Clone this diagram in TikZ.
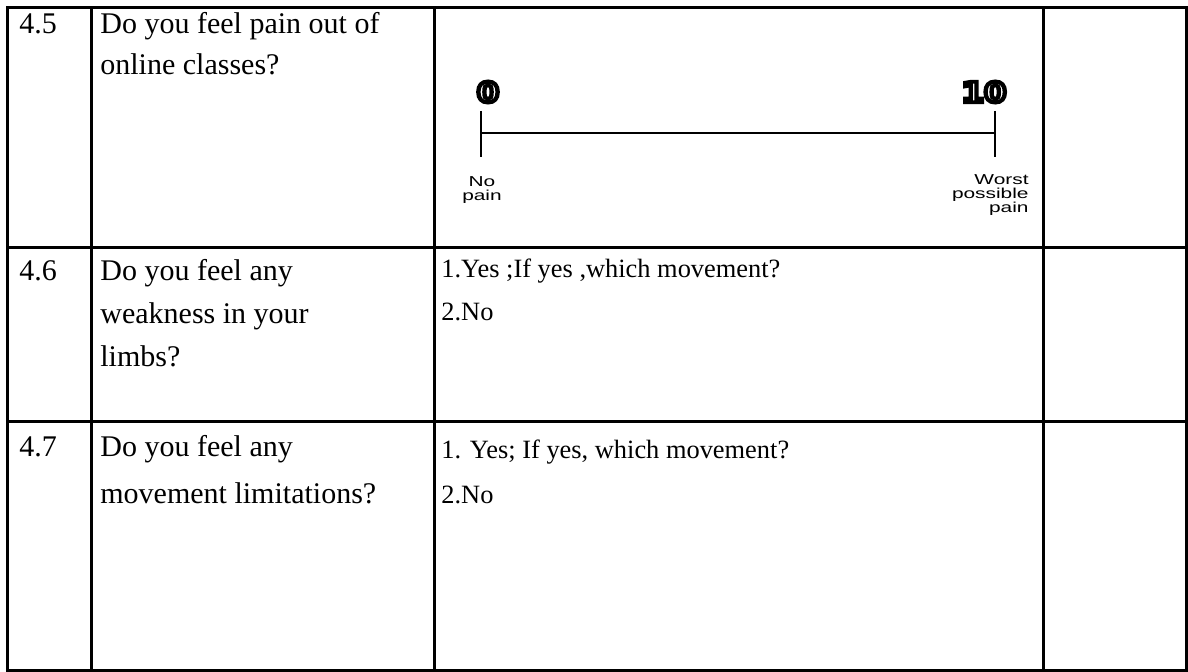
\documentclass[tikz,border=0pt]{standalone}
\usepackage{fontspec}
\usepackage{graphicx}
\setmainfont{Liberation Serif}
\newfontfamily\labelfont{Liberation Sans}
\newfontfamily\digitfont{DejaVu Sans Bold}
\newcommand{\wide}[1]{\scalebox{1.45}[1]{#1}}
\newcommand{\outlined}[1]{\scalebox{1.15}[1]{\special{pdf:literal q 1 Tr 1.9 w}#1\special{pdf:literal Q}}}

\begin{document}
\begin{tikzpicture}[x=0.5pt,y=-0.5pt,
                    cell/.style={anchor=base west,inner sep=0pt,font=\fontsize{15}{21.5}\selectfont},
                    answer/.style={cell,font=\fontsize{13.2}{21.5}\selectfont},
                    grid line/.style={line width=1.5pt},
                    scale line/.style={line width=0.8pt},
                    tag/.style={inner sep=0pt,font=\labelfont\fontsize{7.2}{6.8}\selectfont},
                    digit/.style={inner sep=0pt,font=\digitfont\fontsize{14}{14}\selectfont}]

  \useasboundingbox (0,0) rectangle (1188,672);

  % table frame
  \draw[grid line] (7,8) rectangle (1186,671);
  \foreach \x in {91,434,1043}
    \draw[grid line] (\x,8) -- (\x,671);
  \foreach \y in {248,422}
    \draw[grid line] (7,\y) -- (1186,\y);

  % row 4.5
  \node[cell] (n45) at (19,34) {4.5};
  \node[cell] (q45a) at (100,34) {Do you feel pain out of};
  \node[cell] (q45b) at (100,75) {online classes?};

  % pain scale
  \coordinate (zerotop) at (481,111);
  \coordinate (zerobot) at (481,157);
  \coordinate (zeromid) at (481,133);
  \coordinate (tentop) at (995,111);
  \coordinate (tenbot) at (995,157);
  \coordinate (tenmid) at (995,133);
  \path[scale line]
    (zerotop) edge (zerobot)
    (zeromid) edge (tenmid)
    (tentop) edge (tenbot);
  \node[digit] (zero) at (488,92) {\outlined{0}};
  \node[digit] (ten) at (984,92) {\outlined{10}};
  \node[tag,align=center] (nopain) at (482,190) {\wide{No}\\\wide{pain}};
  \node[tag,align=right,anchor=east] (worst) at (1029,195) {\wide{Worst}\\\wide{possible}\\\wide{pain}};

  % row 4.6
  \node[cell] (n46) at (19,281) {4.6};
  \node[cell] (q46a) at (100,281) {Do you feel any};
  \node[cell] (q46b) at (100,324) {weakness in your};
  \node[cell] (q46c) at (100,367) {limbs?};
  \node[answer] (a46a) at (441,278) {1.Yes ;If yes ,which movement?};
  \node[answer] (a46b) at (441,321) {2.No};

  % row 4.7
  \node[cell] (n47) at (19,457) {4.7};
  \node[cell] (q47a) at (100,457) {Do you feel any};
  \node[cell] (q47b) at (100,504) {movement limitations?};
  \node[answer] (a47a) at (441,459) {1. Yes; If yes, which movement?};
  \node[answer] (a47b) at (441,504) {2.No};
\end{tikzpicture}
\end{document}
